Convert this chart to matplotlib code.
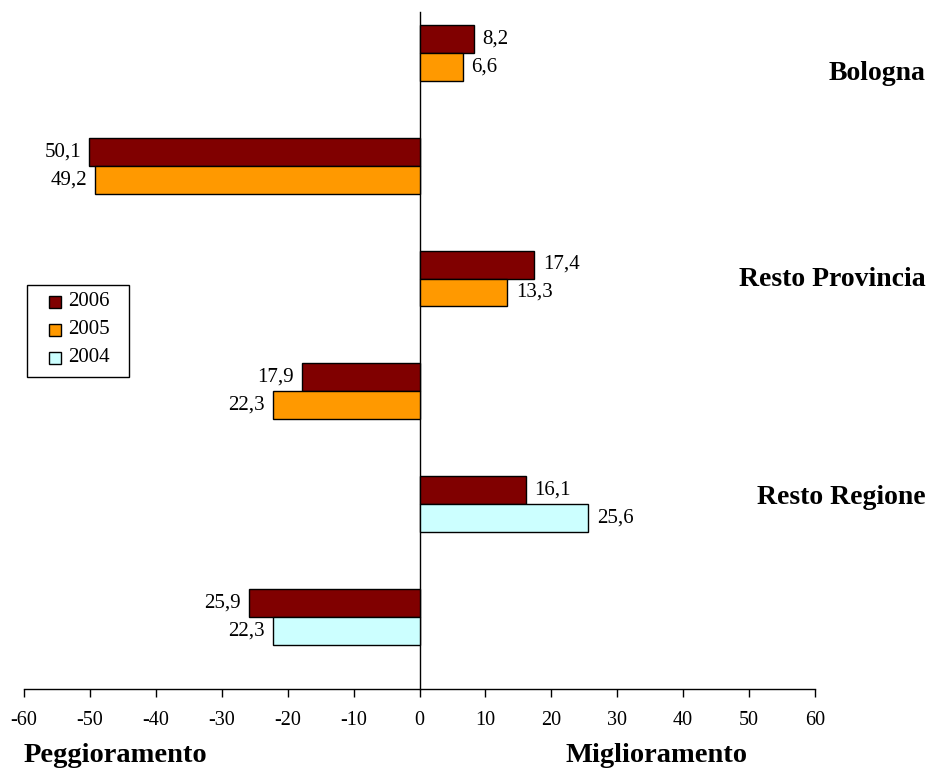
import matplotlib
matplotlib.use("Agg")
import matplotlib.pyplot as plt
from matplotlib.patches import Rectangle

plt.rcParams['font.family'] = ['Liberation Serif', 'DejaVu Serif']
plt.rcParams['axes.unicode_minus'] = False

categories = ["Bologna", "Resto Provincia", "Resto Regione"]
prev_year = ["2005", "2005", "2004"]

# share improving / worsening, 2006 vs previous survey
migl_2006 = [8.2, 17.4, 16.1]
migl_prev = [6.6, 13.3, 25.6]
pegg_2006 = [50.1, 17.9, 25.9]
pegg_prev = [49.2, 22.3, 22.3]

year_labels = ["2006", "2005", "2004"]
colors = {"2006": "#800000", "2005": "#FF9900", "2004": "#CCFFFF"}

W, H = 930, 771
fig = plt.figure(figsize=(W / 100, H / 100), dpi=100)
# axes box in pixels: x from 24 to 815, y from 12 to 689
ax = fig.add_axes([24 / W, 1 - 689 / H, 791 / W, 677 / H])

bh = 0.248


def fmt(v):
    return f"{v:.1f}".replace(".", ",")


for i, cat in enumerate(categories):
    rows = [(2 * i, migl_2006[i], migl_prev[i]),
            (2 * i + 1, -pegg_2006[i], -pegg_prev[i])]
    for y, v06, vprev in rows:
        for off, val, yr in [(-bh / 2, v06, "2006"), (bh / 2, vprev, prev_year[i])]:
            ax.barh(y + off, val, height=bh, color=colors[yr],
                    edgecolor="black", linewidth=1.0, zorder=3)
            if val > 0:
                ax.text(val + 1.3, y + off, fmt(abs(val)), ha="left",
                        va="center", fontsize=15)
            else:
                ax.text(val - 1.2, y + off, fmt(abs(val)), ha="right",
                        va="center", fontsize=15)

ax.set_xlim(-60, 60)
ax.set_ylim(5.638, -0.362)
ax.set_xticks(range(-60, 61, 10))
ax.set_yticks([])
ax.tick_params(axis="x", direction="out", length=6, width=1.0,
               labelsize=14.5, pad=10)

ax.spines["top"].set_visible(False)
ax.spines["right"].set_visible(False)
ax.spines["left"].set_position(("data", 0))
ax.spines["left"].set_linewidth(1.0)
ax.spines["bottom"].set_linewidth(1.0)
ax.patch.set_visible(False)

# category labels on the right
label_y = [0.18, 2.01, 3.94]
for cat, y in zip(categories, label_y):
    ax.text(76.8, y, cat, ha="right", va="center", fontsize=20,
            fontweight="bold", clip_on=False)

fig.text(24 / W, 1 - 762 / H, "Peggioramento", ha="left", va="baseline",
         fontsize=20.5, fontweight="bold")
fig.text(656 / W, 1 - 762 / H, "Miglioramento", ha="center", va="baseline",
         fontsize=20.5, fontweight="bold")

# legend box
def px(x, y):
    return x / W, 1 - y / H

lx0, ly0, lx1, ly1 = 27, 285, 129, 377
fig.patches.append(Rectangle(px(lx0, ly1), (lx1 - lx0) / W, (ly1 - ly0) / H,
                             transform=fig.transFigure, facecolor="white",
                             edgecolor="black", linewidth=1.0))
for k, yr in enumerate(year_labels):
    cy = 302 + 28 * k
    fig.patches.append(Rectangle(px(49, cy + 6), 12 / W, 12 / H,
                                 transform=fig.transFigure,
                                 facecolor=colors[yr], edgecolor="black",
                                 linewidth=1.0))
    fig.text(*px(68, cy), yr, ha="left", va="center", fontsize=15)

fig.savefig("out.png", dpi=100)
